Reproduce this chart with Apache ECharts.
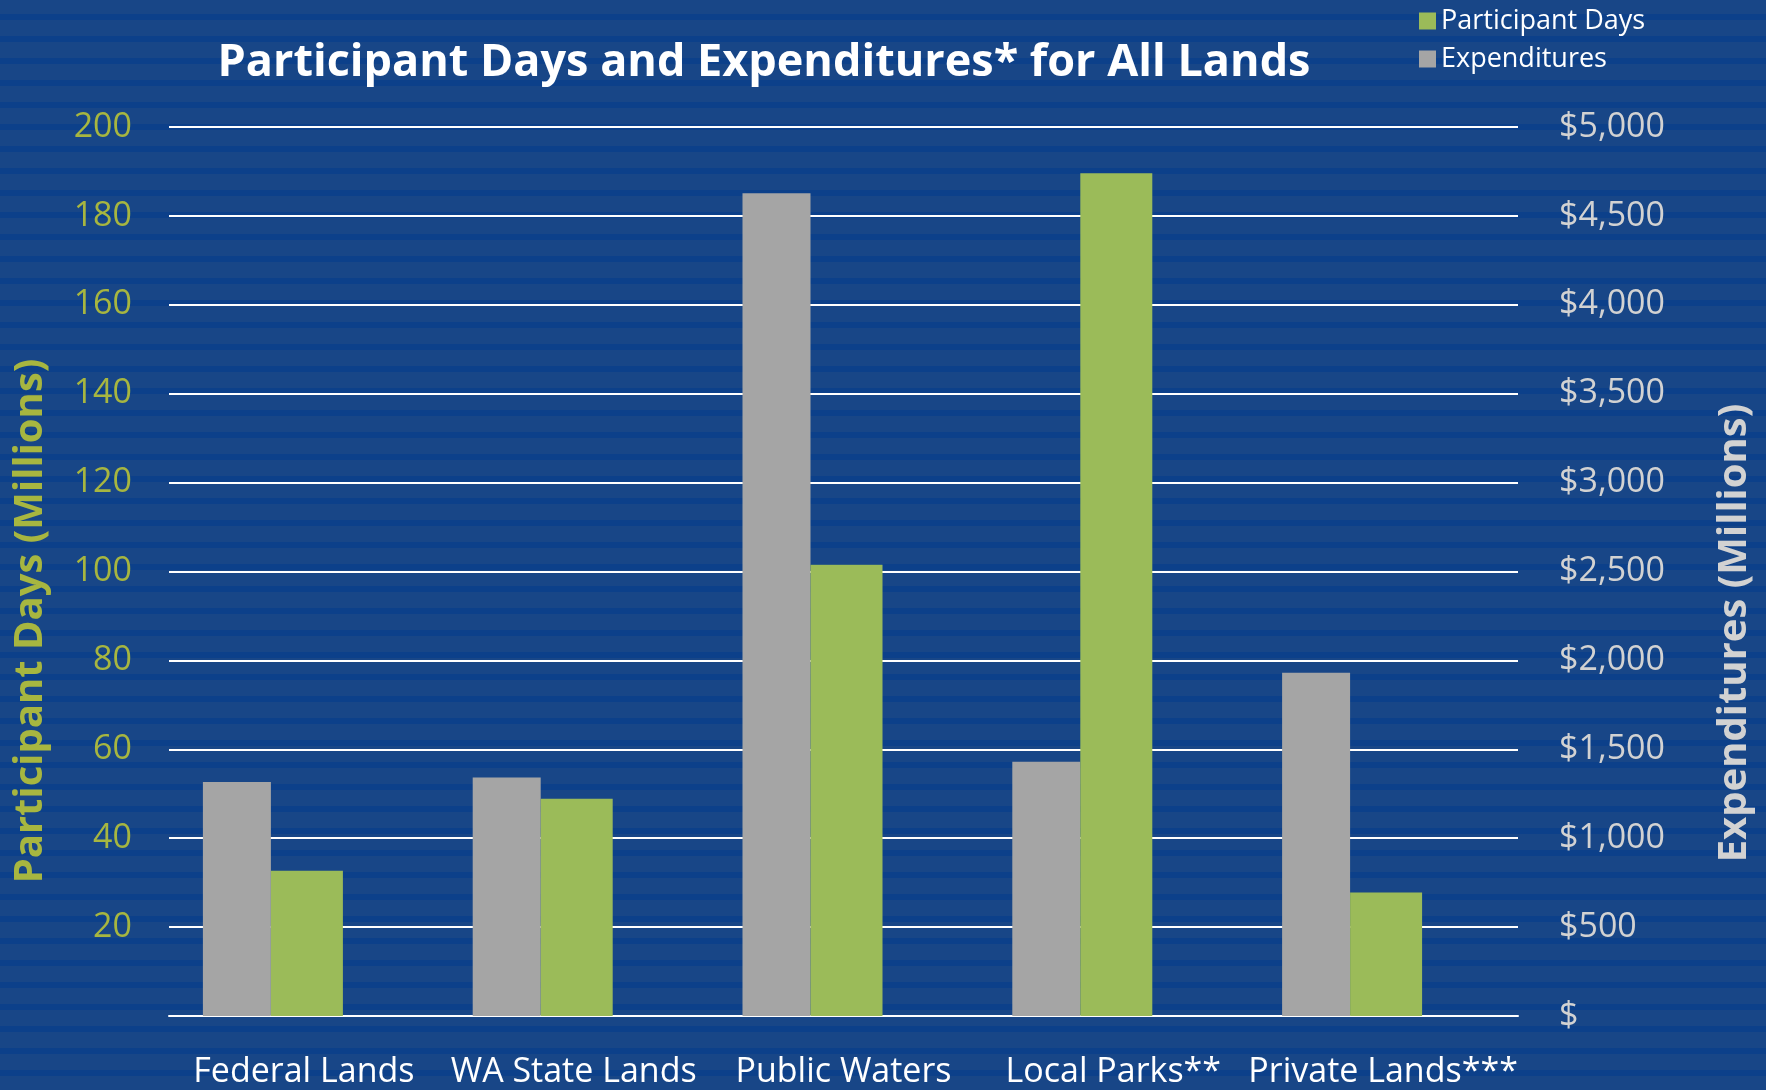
<!DOCTYPE html>
<html>
<head>
<meta charset="utf-8">
<script src="https://cdn.jsdelivr.net/npm/echarts@6/dist/echarts.min.js"></script>
<style>
html,body{margin:0;padding:0;}
#main{width:1766px;height:1090px;
  background:repeating-linear-gradient(to bottom,#184687 0px,#184687 14px,#0c408a 14px,#0c408a 20px,#184687 20px,#184687 22px);}
</style>
</head>
<body>
<div id="main"></div>
<script>
var categories = ['Federal Lands', 'WA State Lands', 'Public Waters', 'Local Parks**', 'Private Lands***'];
var participantDays = [32.7, 48.9, 101.5, 189.6, 27.8];   // millions
var expenditures = [1316, 1342, 4627, 1430, 1930];        // $ millions
var spacer = ['-', '-', '-', '-', '-'];                   // empty slot like the excel layout

var fontFam = '"Open Sans", "Noto Sans", sans-serif';
var chart = echarts.init(document.getElementById('main'));

function money(v){
	if (v == 0) return '$';
	return '$' + String(v).replace(/\B(?=(\d{3})+(?!\d))/g, ',');
}

var option = {
	backgroundColor: 'transparent',
	animation: false,
	title: {
		text: 'Participant Days and Expenditures* for All Lands',
		left: 759, top: 36, textAlign: 'center',
		textStyle: {color: '#fff', fontSize: 45, fontWeight: 'bold', fontFamily: fontFam}
	},
	legend: {
		orient: 'vertical', left: 1414, top: 0,
		itemWidth: 17, itemHeight: 17, itemGap: 6,
		icon: 'rect',
		data: ['Participant Days', 'Expenditures'],
		textStyle: {color: '#fff', fontSize: 27, fontFamily: fontFam, lineHeight: 32}
	},
	grid: {left: 169, right: 248, top: 127, bottom: 74, containLabel: false},
	xAxis: {
		type: 'category',
		data: categories,
		axisLine: {show: true, lineStyle: {color: '#fff', width: 2}},
		axisTick: {show: false},
		axisLabel: {color: '#fff', fontSize: 34, fontFamily: fontFam, margin: 39, interval: 0}
	},
	yAxis: [{
		type: 'value', min: 0, max: 200, interval: 20,
		axisLine: {show: false}, axisTick: {show: false},
		splitLine: {lineStyle: {color: '#fff', width: 2}},
		axisLabel: {color: '#a7b640', fontSize: 34, fontFamily: fontFam, margin: 37,
			formatter: function(v){ return v == 0 ? '' : v; }}
	}, {
		type: 'value', min: 0, max: 5000, interval: 500,
		position: 'right',
		axisLine: {show: false}, axisTick: {show: false},
		splitLine: {show: false},
		axisLabel: {color: '#d2d2d2', fontSize: 34, fontFamily: fontFam, margin: 41, align: 'left',
			formatter: money}
	}],
	graphic: [{
		type: 'text', rotation: Math.PI / 2,
		style: {text: 'Participant Days (Millions)', fill: '#a7b640', font: 'bold 40px ' + fontFam,
			textAlign: 'center', textVerticalAlign: 'middle'},
		x: 31, y: 621
	}, {
		type: 'text', rotation: Math.PI / 2,
		style: {text: 'Expenditures (Millions)', fill: '#d2d2d2', font: 'bold 40px ' + fontFam,
			textAlign: 'center', textVerticalAlign: 'middle'},
		x: 1735, y: 633
	}],
	series: [{
		name: 'Expenditures', type: 'bar', yAxisIndex: 1,
		barWidth: 68, barGap: 0,
		itemStyle: {color: '#a5a5a5'},
		data: expenditures
	}, {
		name: 'Participant Days', type: 'bar', yAxisIndex: 0,
		barWidth: 72, barGap: 0,
		itemStyle: {color: '#9bbb59'},
		data: participantDays
	}, {
		name: 'spacer', type: 'bar', yAxisIndex: 0,
		barWidth: 62, barGap: 0,
		data: spacer
	}]
};
chart.setOption(option);
</script>
</body>
</html>
